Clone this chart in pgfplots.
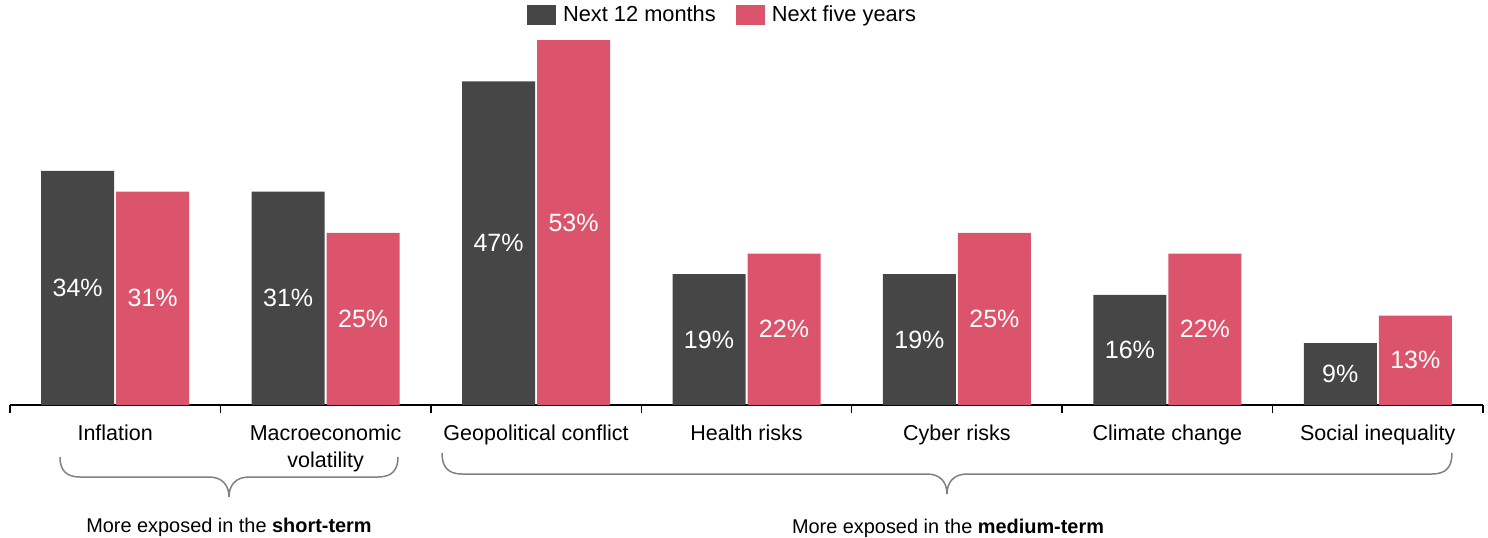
\documentclass[border=0pt]{standalone}
\usepackage{pgfplots}
\pgfplotsset{compat=1.18}
\usepackage{pgfplotstable}
\usepackage{fontspec}
\setmainfont{Liberation Sans}
\definecolor{darkbar}{HTML}{464646}
\definecolor{pinkbar}{HTML}{DC546B}
\definecolor{bracegray}{HTML}{808080}
\pgfplotstableread{
x a b
0 34 31
1 31 25
2 47 53
3 19 22
4 19 25
5 16 22
6 9 13
}\data
\begin{document}
\begin{tikzpicture}
\begin{axis}[
  at={(5pt,66pt)}, anchor=south west,
  scale only axis, width=736.5pt, height=189.3pt,
  xmin=-0.5, xmax=6.5, ymin=0, ymax=55,
  axis x line=bottom, axis y line=none,
  axis line style={-, line width=0.75pt, black},
  xtick={-0.5,0.5,...,6.5}, xticklabels={},
  tick align=outside, major tick length=4pt,
  xtick style={line width=0.75pt, black},
  extra x ticks={0,1,2,3,4,5,6},
  extra x tick labels={Inflation, Macroeconomic\\volatility, Geopolitical conflict, Health risks, Cyber risks, Climate change, Social inequality},
  extra x tick style={major tick length=0pt, tick label style={anchor=north, yshift=-6.5pt, align=center, font=\fontsize{10.75}{13.5}\selectfont, text=black}},
  clip=false,
  legend columns=-1,
  legend style={draw=none, fill=none, at={(0.4844,1)}, anchor=center, yshift=5.5pt,
    font=\fontsize{10.9}{13}\selectfont,
    /tikz/every odd column/.append style={column sep=1.5pt},
    /tikz/every even column/.append style={column sep=8pt}},
]
\addplot[ybar, bar width=36.5pt, bar shift=-18.75pt, fill=darkbar, draw=none,
  legend image code/.code={\fill[darkbar] (0pt,-5pt) rectangle (14.5pt,5pt);}]
  table[x=x, y=a]{\data};
\addlegendentry{Next 12 months}
\addplot[ybar, bar width=36.5pt, bar shift=18.75pt, fill=pinkbar, draw=none,
  legend image code/.code={\fill[pinkbar] (0pt,-5pt) rectangle (14.5pt,5pt);}]
  table[x=x, y=b]{\data};
\addlegendentry{Next five years}
\addplot[forget plot, draw=none, mark=none, point meta=explicit symbolic,
  nodes near coords={\pgfplotspointmeta\%},
  nodes near coords style={anchor=center, text=white, xshift=-18.75pt, font=\fontsize{12.5}{15}\selectfont}]
  table[x=x, y expr=\thisrow{a}/2, meta=a]{\data};
\addplot[forget plot, draw=none, mark=none, point meta=explicit symbolic,
  nodes near coords={\pgfplotspointmeta\%},
  nodes near coords style={anchor=center, text=white, xshift=18.75pt, font=\fontsize{12.5}{15}\selectfont}]
  table[x=x, y expr=\thisrow{b}/2, meta=b]{\data};
\end{axis}
\begin{scope}[x=0.5pt, y=-0.5pt, yshift=268.5pt]
\draw[bracegray, line width=0.75pt]
  (60,457) .. controls (60,470) and (66,477) .. (80,477) -- (209,477)
  .. controls (222,477) and (229,485) .. (229,497)
  .. controls (229,485) and (236,477) .. (249,477) -- (378,477)
  .. controls (392,477) and (398,470) .. (398,457);
\draw[bracegray, line width=0.75pt]
  (442,453) .. controls (442,467) and (448,474) .. (462,474) -- (927,474)
  .. controls (940,474) and (947,482) .. (947,494)
  .. controls (947,482) and (954,474) .. (967,474) -- (1432,474)
  .. controls (1446,474) and (1452,467) .. (1452,453);
\node[anchor=base, font=\fontsize{9.95}{12}\selectfont, inner sep=0pt] at (229,532) {More exposed in the \textbf{short-term}};
\node[anchor=base, font=\fontsize{9.95}{12}\selectfont, inner sep=0pt] at (948,533) {More exposed in the \textbf{medium-term}};
\end{scope}
\pgfresetboundingbox
\path[use as bounding box] (0,0) rectangle (744pt,268.5pt);
\end{tikzpicture}
\end{document}
